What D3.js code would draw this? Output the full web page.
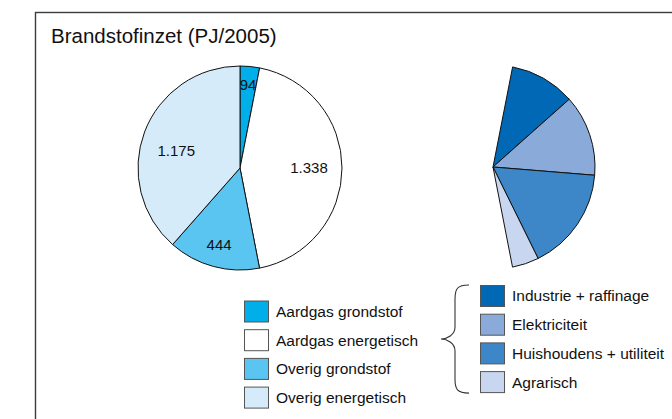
<!DOCTYPE html>
<html>
<head>
<meta charset="utf-8">
<script src="https://cdn.jsdelivr.net/npm/d3@7"></script>
<style>
  html, body { margin: 0; padding: 0; background: #fff; }
  svg { display: block; font-family: "Liberation Sans", Arial, Helvetica, sans-serif; }
</style>
</head>
<body>
<svg id="chart" width="672" height="419"></svg>
<script>
// main pie: fuel input (PJ/2005)
var categories = ["Aardgas grondstof", "Aardgas energetisch", "Overig grondstof", "Overig energetisch"];
var values = [94, 1338, 444, 1175];
var valueLabels = ["94", "1.338", "444", "1.175"];
var colors = ["#00aee9", "#ffffff", "#5ac5f1", "#d5ebfa"];

// breakdown of "Aardgas energetisch"
var subCategories = ["Industrie + raffinage", "Elektriciteit", "Huishoudens + utiliteit", "Agrarisch"];
var subValues = [316, 392, 501, 129];
var subColors = ["#0068b4", "#8aabda", "#3d87c8", "#c8d6ef"];

var svg = d3.select("#chart");

// frame (runs off the right and bottom edge)
svg.append("rect")
  .attr("x", 35.5).attr("y", 12.5)
  .attr("width", 700).attr("height", 500)
  .attr("fill", "none")
  .attr("stroke", "#3c3c3c")
  .attr("stroke-width", 1.4);

svg.append("text")
  .attr("x", 51).attr("y", 43)
  .attr("font-size", 20.5)
  .attr("fill", "#111")
  .text("Brandstofinzet (PJ/2005)");

var radius = 102;

var pie = d3.pie().sort(null).value(function(d) { return d; });
var arcs = pie(values);
var arc = d3.arc().innerRadius(0).outerRadius(radius);

var main = svg.append("g").attr("transform", "translate(240,168)");

main.selectAll("path")
  .data(arcs)
  .enter().append("path")
  .attr("d", arc)
  .attr("fill", function(d, i) { return colors[i]; })
  .attr("stroke", "#111")
  .attr("stroke-width", 1)
  .attr("stroke-linejoin", "round");

// label distance from centre per slice, plus small angle nudge
var labelRadius = [84, 69, 80, 66];
var labelTurn = [0, 0, 0, -0.1];
main.selectAll("text")
  .data(arcs)
  .enter().append("text")
  .attr("transform", function(d, i) {
    var a = (d.startAngle + d.endAngle) / 2 + labelTurn[i];
    var c = [Math.sin(a) * labelRadius[i], -Math.cos(a) * labelRadius[i]];
    return "translate(" + c[0] + "," + c[1] + ")";
  })
  .attr("text-anchor", "middle")
  .attr("dy", "0.35em")
  .attr("font-size", 15)
  .attr("fill", "#111")
  .text(function(d, i) { return valueLabels[i]; });

// exploded breakdown of the white slice, same angles
var parent = arcs[1];
var subPie = d3.pie().sort(null).value(function(d) { return d; })
  .startAngle(parent.startAngle).endAngle(parent.endAngle);

var side = svg.append("g").attr("transform", "translate(493,167)");
side.selectAll("path")
  .data(subPie(subValues))
  .enter().append("path")
  .attr("d", arc)
  .attr("fill", function(d, i) { return subColors[i]; })
  .attr("stroke", "#111")
  .attr("stroke-width", 1)
  .attr("stroke-linejoin", "round");

// legends
var rowH = 28.7;
function legend(x, y, names, fills) {
  var g = svg.append("g").attr("transform", "translate(" + x + "," + y + ")");
  var row = g.selectAll("g")
    .data(names)
    .enter().append("g")
    .attr("transform", function(d, i) { return "translate(0," + (i * rowH) + ")"; });
  row.append("rect")
    .attr("x", 0.5).attr("y", 0.5)
    .attr("width", 24).attr("height", 21)
    .attr("fill", function(d, i) { return fills[i]; })
    .attr("stroke", "#555")
    .attr("stroke-width", 1);
  row.append("text")
    .attr("x", 32).attr("y", 11)
    .attr("dy", "0.35em")
    .attr("font-size", 15.5)
    .attr("fill", "#111")
    .text(function(d) { return d; });
  return g;
}

legend(244, 300.5, categories, colors);
legend(480, 285, subCategories, subColors);

// curly brace tying the breakdown to the legend
var braceTop = 285, braceBot = 285 + 3 * rowH + 22, braceMid = (braceTop + braceBot) / 2;
var bx = 469, sx = 455, tip = 441;
svg.append("path")
  .attr("d", "M" + bx + "," + braceTop +
    " C" + (sx + 2) + "," + braceTop + " " + sx + "," + (braceTop + 4) + " " + sx + "," + (braceTop + 14) +
    " L" + sx + "," + (braceMid - 12) +
    " C" + sx + "," + (braceMid - 4) + " " + (tip + 6) + "," + braceMid + " " + tip + "," + braceMid +
    " C" + (tip + 6) + "," + braceMid + " " + sx + "," + (braceMid + 4) + " " + sx + "," + (braceMid + 12) +
    " L" + sx + "," + (braceBot - 14) +
    " C" + sx + "," + (braceBot - 4) + " " + (sx + 2) + "," + braceBot + " " + bx + "," + braceBot)
  .attr("fill", "none")
  .attr("stroke", "#333")
  .attr("stroke-width", 1.1);
</script>
</body>
</html>
